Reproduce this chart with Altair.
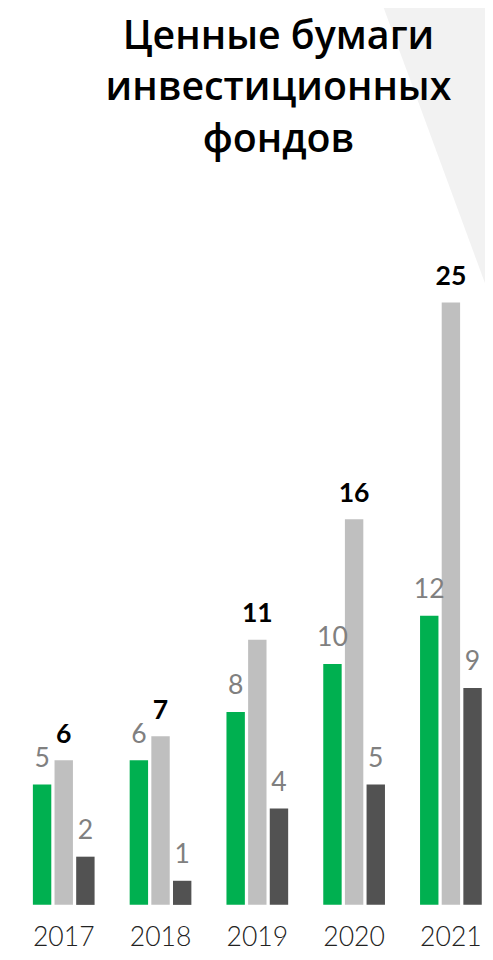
import altair as alt
import pandas as pd

years = ["2017", "2018", "2019", "2020", "2021"]
series = ["s1", "s2", "s3"]
s1_values = [5, 6, 8, 10, 12]
s2_values = [6, 7, 11, 16, 25]
s3_values = [2, 1, 4, 5, 9]
title_lines = ["Ценные бумаги", "инвестиционных", "фондов"]
colors = ["#00b050", "#bfbfbf", "#525252"]

rows = []
for i, y in enumerate(years):
    rows.append({"year": y, "series": "s1", "value": s1_values[i]})
    rows.append({"year": y, "series": "s2", "value": s2_values[i]})
    rows.append({"year": y, "series": "s3", "value": s3_values[i]})
df = pd.DataFrame(rows)

one = pd.DataFrame({"k": [0]})

xenc = alt.X("year:N", sort=years,
             scale=alt.Scale(range=[25.3, 481.7], paddingInner=0.3625, paddingOuter=0),
             axis=alt.Axis(title=None, domain=False, ticks=False, tickSize=0, labelPadding=41,
                           labelBaseline="alphabetic",
                           labelFont="Lato", labelFontSize=27, labelFontWeight=300,
                           labelColor="#222222", labelAngle=0))
xoff = alt.XOffset("series:N", sort=series,
                   scale=alt.Scale(paddingInner=0.15, paddingOuter=0))
yenc = alt.Y("value:Q", scale=alt.Scale(domain=[0, 28.735], nice=False), axis=None)

deco = alt.Chart(one).mark_rule(color="#f2f2f2", strokeWidth=160, strokeCap="butt").encode(
    x=alt.value(457.1), y=alt.value(-235.6), x2=alt.value(560.1), y2=alt.value(44.4))

bars = alt.Chart(df).mark_bar().encode(
    x=xenc, xOffset=xoff, y=yenc,
    color=alt.Color("series:N", scale=alt.Scale(domain=series, range=colors), legend=None))

lab_gray = alt.Chart(df).transform_filter(alt.datum.series != "s2").mark_text(
    font="Lato", fontSize=27, fontWeight=400, color="#808080", baseline="alphabetic", dy=-18
).encode(x=xenc, xOffset=xoff, y=yenc, text="value:Q")

lab_black = alt.Chart(df).transform_filter(alt.datum.series == "s2").mark_text(
    font="Lato", fontSize=27, fontWeight=700, color="#000000", baseline="alphabetic", dy=-18
).encode(x=xenc, xOffset=xoff, y=yenc, text="value:Q")

title_layers = []
for line, ypos in zip(title_lines, [-166, -114, -61]):
    title_layers.append(alt.Chart(one).mark_text(
        text=line, font="Open Sans", fontSize=40, fontWeight=600,
        align="center", baseline="alphabetic", color="#000000"
    ).encode(x=alt.value(275), y=alt.value(ypos)))

chart = alt.layer(deco, bars, lab_gray, lab_black, *title_layers).properties(
    width=485, height=704,
    autosize=alt.AutoSizeParams(type="none"),
    padding={"left": 0, "right": 0, "top": 200, "bottom": 40},
    background="#ffffff"
).configure_view(stroke=None)

chart.save("out.html", embed_options={"renderer": "svg", "actions": False})
